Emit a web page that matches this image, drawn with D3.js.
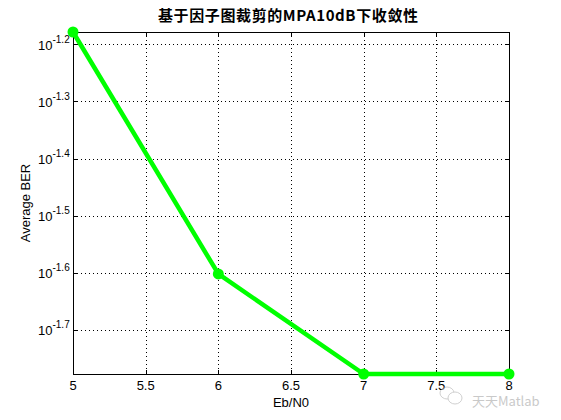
<!DOCTYPE html>
<html><head><meta charset="utf-8">
<script src="https://cdn.jsdelivr.net/npm/d3@7"></script>
<style>
html,body{margin:0;padding:0;background:#fff;}
svg{display:block;font-family:"Liberation Sans",Arial,sans-serif;}
</style></head>
<body>
<svg id="chart" width="561" height="420"></svg>
<script>
const ebn0 = [5, 6, 7, 8];
const ber = [0.0663, 0.0250, 0.0167, 0.0167];
const xTicks = [5, 5.5, 6, 6.5, 7, 7.5, 8];
const xTickLabels = ["5", "5.5", "6", "6.5", "7", "7.5", "8"];
const yTickExps = [-1.2, -1.3, -1.4, -1.5, -1.6, -1.7];
const yTickLabels = ["-1.2", "-1.3", "-1.4", "-1.5", "-1.6", "-1.7"];
const titleText = "基于因子图裁剪的MPA10dB下收敛性";
const xLabel = "Eb/N0";
const yLabel = "Average BER";
const watermark = "天天Matlab";

const svg = d3.select("#chart");
const m = {left: 73, right: 509, top: 32, bottom: 374};
const x = d3.scaleLinear().domain([5, 8]).range([m.left, m.right]);
const y = d3.scaleLog().domain(d3.extent(ber)).range([m.bottom, m.top]);

svg.append("rect").attr("width", 561).attr("height", 420).attr("fill", "#fff");

// grid
const g = svg.append("g");
g.selectAll(".vg").data(xTicks.slice(1, -1)).enter().append("line")
  .attr("x1", d => Math.round(x(d)) + 0.5).attr("x2", d => Math.round(x(d)) + 0.5)
  .attr("y1", m.top).attr("y2", m.bottom)
  .attr("stroke", "#000").attr("stroke-width", 1).attr("stroke-dasharray", "1,3")
  .attr("shape-rendering", "crispEdges");
g.selectAll(".hg").data(yTickExps).enter().append("line")
  .attr("x1", m.left).attr("x2", m.right)
  .attr("y1", d => Math.round(y(Math.pow(10, d))) + 0.5).attr("y2", d => Math.round(y(Math.pow(10, d))) + 0.5)
  .attr("stroke", "#000").attr("stroke-width", 1).attr("stroke-dasharray", "1,3")
  .attr("shape-rendering", "crispEdges");

// ticks (inward, both sides)
const tl = 4;
xTicks.forEach(t => {
  const xx = Math.round(x(t)) + 0.5;
  g.append("line").attr("x1", xx).attr("x2", xx).attr("y1", m.bottom).attr("y2", m.bottom - tl).attr("stroke", "#000");
  g.append("line").attr("x1", xx).attr("x2", xx).attr("y1", m.top).attr("y2", m.top + tl).attr("stroke", "#000");
});
yTickExps.forEach(e => {
  const yy = Math.round(y(Math.pow(10, e))) + 0.5;
  g.append("line").attr("x1", m.left).attr("x2", m.left + tl).attr("y1", yy).attr("y2", yy).attr("stroke", "#000");
  g.append("line").attr("x1", m.right).attr("x2", m.right - tl).attr("y1", yy).attr("y2", yy).attr("stroke", "#000");
});

// box
svg.append("rect").attr("x", m.left + 0.5).attr("y", m.top + 0.5)
  .attr("width", m.right - m.left).attr("height", m.bottom - m.top)
  .attr("fill", "none").attr("stroke", "#000").attr("stroke-width", 1);

// x tick labels
svg.selectAll(".xt").data(xTicks).enter().append("text")
  .attr("x", d => x(d)).attr("y", 390)
  .attr("text-anchor", "middle").attr("font-size", 13).attr("fill", "#000")
  .text((d, i) => xTickLabels[i]);

// y tick labels
yTickExps.forEach((e, i) => {
  const yy = y(Math.pow(10, e));
  const t = svg.append("text").attr("x", 38).attr("y", yy + 5.5)
    .attr("font-size", 13).attr("fill", "#000");
  t.append("tspan").text("10");
  t.append("tspan").attr("dy", -7).attr("font-size", 10).text(yTickLabels[i]);
});

// data line
const line = d3.line().x((d, i) => x(ebn0[i])).y(d => y(d));
svg.append("path").datum(ber).attr("d", line)
  .attr("fill", "none").attr("stroke", "#00ff00").attr("stroke-width", 4.5)
  .attr("stroke-linejoin", "round");
svg.selectAll(".pt").data(ber).enter().append("circle")
  .attr("cx", (d, i) => x(ebn0[i])).attr("cy", d => y(d)).attr("r", 5.5)
  .attr("fill", "#00ff00");

// title
svg.append("text").attr("x", 158).attr("y", 21)
  .attr("font-size", 15).attr("font-weight", "bold")
  .attr("textLength", 260).attr("lengthAdjust", "spacing")
  .attr("font-family", "'Noto Sans CJK SC','Liberation Sans',sans-serif")
  .text(titleText);

// axis labels
svg.append("text").attr("x", 291).attr("y", 407).attr("text-anchor", "middle")
  .attr("font-size", 13).text(xLabel);
svg.append("text").attr("transform", "translate(30,203) rotate(-90)")
  .attr("text-anchor", "middle").attr("font-size", 13).text(yLabel);

// watermark
const wm = svg.append("g").attr("opacity", 0.45);
wm.append("ellipse").attr("cx", 447).attr("cy", 393).attr("rx", 7).attr("ry", 6)
  .attr("fill", "#fff").attr("stroke", "#999").attr("stroke-width", 1);
wm.append("ellipse").attr("cx", 455).attr("cy", 398).attr("rx", 7).attr("ry", 6)
  .attr("fill", "#fff").attr("stroke", "#999").attr("stroke-width", 1);
wm.append("text").attr("x", 472).attr("y", 406).attr("font-size", 13)
  .attr("fill", "#888")
  .attr("font-family", "'Noto Sans CJK SC','Liberation Sans',sans-serif")
  .text(watermark);
</script>
</body></html>
